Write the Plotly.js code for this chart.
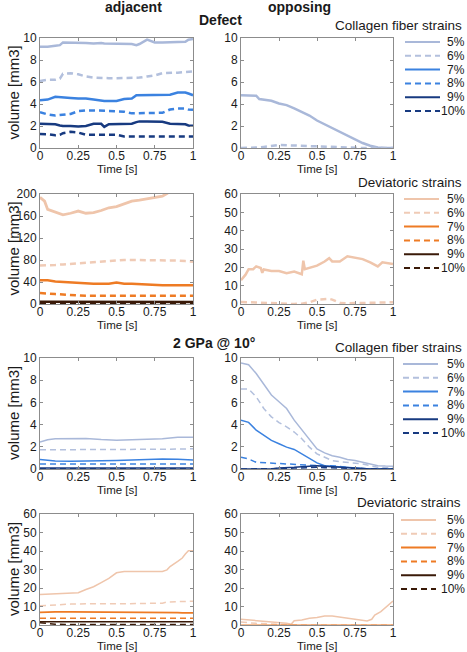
<!DOCTYPE html>
<html>
<head>
<meta charset="utf-8">
<script src="https://cdn.plot.ly/plotly-3.0.1.min.js"></script>
<style>html,body{margin:0;padding:0;background:#fff;}#chart{width:467px;height:652px;}</style>
</head>
<body>
<div id="chart"></div>
<script>
// ---------- DATA ----------
const seriesNames = ['5%', '6%', '7%', '8%', '9%', '10%'];
const xTickVals = [0, 0.25, 0.5, 0.75, 1];
const xTickText = ['0', '0.25', '0.5', '0.75', '1'];

// Panel 1: Defect, adjacent, collagen fiber strains
const t1 = [0,0.05,0.1,0.13,0.15,0.2,0.25,0.3,0.35,0.4,0.42,0.45,0.5,0.55,0.6,0.63,0.65,0.7,0.75,0.8,0.85,0.9,0.95,0.97,1];
const p1_5  = [9.2,9.2,9.3,9.35,9.6,9.6,9.55,9.55,9.5,9.55,9.5,9.5,9.5,9.45,9.45,9.35,9.45,9.85,9.6,9.6,9.6,9.6,9.65,9.85,9.9];
const p1_6  = [6.1,6.2,6.2,6.3,6.75,6.8,6.7,6.5,6.4,6.35,6.35,6.35,6.35,6.35,6.35,6.35,6.4,6.5,6.6,6.8,6.8,6.85,6.9,6.9,6.95];
const p1_7  = [4.35,4.4,4.65,4.6,4.6,4.55,4.5,4.5,4.4,4.3,4.28,4.28,4.28,4.45,4.5,4.8,4.8,4.8,4.8,4.82,4.85,5.05,5.05,4.95,4.8];
const p1_8  = [3.25,3.05,2.95,3.0,3.0,3.1,3.35,3.42,3.42,3.4,3.38,3.38,3.38,3.3,3.15,3.15,3.15,3.15,3.15,3.2,3.5,3.6,3.6,3.5,3.48];
const p1_9  = [2.2,2.2,2.15,2.05,2.0,2.0,1.95,2.0,2.2,2.2,1.92,2.17,2.2,2.2,2.2,2.35,2.42,2.42,2.42,2.38,2.2,2.2,2.15,2.05,2.02];
const p1_10 = [1.28,1.25,1.15,1.2,1.35,1.47,1.4,1.2,1.2,1.2,1.2,1.2,1.2,1.05,1.05,1.05,1.05,1.05,1.05,1.05,1.05,1.05,1.05,1.05,1.05];

// Panel 2: Defect, opposing, collagen fiber strains
const t2 = [0,0.05,0.1,0.12,0.15,0.2,0.25,0.3,0.35,0.4,0.45,0.5,0.55,0.6,0.65,0.7,0.75,0.8,0.85,0.9,0.95,1];
const p2_5 = [4.8,4.8,4.75,4.45,4.4,4.3,4.05,3.9,3.6,3.3,2.95,2.5,2.15,1.85,1.5,1.1,0.75,0.45,0.2,0.05,0,0];
const p2_6 = [0,0,0.02,0.05,0.1,0.2,0.28,0.25,0.22,0.2,0.18,0.15,0.12,0.1,0.07,0.05,0.02,0,0,0,0,0];

// Panel 3: Defect, adjacent, deviatoric strains
const t3 = [0,0.03,0.05,0.1,0.15,0.2,0.25,0.3,0.35,0.4,0.45,0.5,0.55,0.6,0.65,0.7,0.75,0.8,0.83,0.86,0.9,0.95,1];
const p3_5  = [194,187,172,167,162,165,169,165,166,170,175,177,182,187,189,191,193,196,201,206,null,null,null];
const p3_6  = [70,70,70,71,72,73,75,76,77,78,79,80,80,80,80,80,80,80,80,80,79,78,77];
const p3_7  = [43,43,43,41,40,39,38,38,37,37,37,39,37,37,36,36,35,34,34,34,35,35,34];
const p3_8  = [20,20,19,18,17,16,16,15,15,15,14,14,14,14,14,14,14,15,15,15,15,15,15];
const p3_9  = [4,4,4,4,4,4,4,4,4,4,3.5,3.5,3.5,3.5,3.5,3.5,3.5,3.5,3.5,3.5,3.5,3.5,3.5];
const p3_10 = [1,1,1,1,1,1,1,1,1,1,1,1,1,1,1,1,1,1,1,1,1,1,1];

// Panel 4: Defect, opposing, deviatoric strains
const t4 = [0,0.03,0.05,0.08,0.1,0.13,0.14,0.15,0.2,0.25,0.3,0.35,0.4,0.41,0.42,0.45,0.5,0.55,0.58,0.6,0.65,0.7,0.75,0.8,0.85,0.9,0.93,1];
const p4_5 = [13,16,19,19,20.5,19.6,17,18.8,18,18,16.8,17.7,16.2,23.6,19,19.6,20.9,23.2,25,23.2,23.2,26,25.3,24.5,22.7,20.5,22.7,21.8];
const p4_6 = [1.1,1,0.9,0.7,0.5,0.5,0.5,0.5,0.3,0.1,0,0,0.2,0.3,0.4,0.9,2.4,2.8,2.8,2.4,0.6,0.4,0.4,0.4,0.5,0.6,0.8,1.0];

// Panel 5: 2 GPa @ 10°, adjacent, collagen fiber strains
const t5 = [0,0.05,0.1,0.2,0.3,0.4,0.45,0.5,0.6,0.7,0.75,0.8,0.9,1];
const p5_5  = [2.42,2.64,2.73,2.73,2.75,2.65,2.6,2.6,2.63,2.65,2.65,2.72,2.85,2.85];
const p5_6  = [1.73,1.73,1.73,1.73,1.73,1.73,1.73,1.73,1.73,1.73,1.75,1.78,1.8,1.82];
const p5_7  = [0.85,0.78,0.72,0.7,0.7,0.72,0.74,0.76,0.8,0.85,0.88,0.9,0.88,0.82];
const p5_8  = [0.45,0.45,0.45,0.45,0.45,0.45,0.45,0.45,0.45,0.48,0.5,0.5,0.48,0.45];
const p5_9  = [0.08,0.08,0.08,0.08,0.08,0.08,0.08,0.08,0.08,0.08,0.08,0.08,0.08,0.08];
const p5_10 = [0.02,0.02,0.02,0.02,0.02,0.02,0.02,0.02,0.02,0.02,0.02,0.02,0.02,0.02];

// Panel 6: 2 GPa @ 10°, opposing, collagen fiber strains
const t6 = [0,0.05,0.1,0.15,0.2,0.25,0.3,0.35,0.4,0.45,0.5,0.55,0.6,0.65,0.7,0.75,0.8,0.85,0.9,0.95,1];
const p6_5  = [9.55,9.4,8.6,7.6,6.67,6.06,5.45,4.4,3.5,2.6,1.8,1.45,1.2,1.06,0.85,0.76,0.6,0.45,0.3,0.26,0.24];
const p6_6  = [7.2,7.2,6.5,5.45,4.7,4.18,3.8,3.33,2.73,1.97,1.36,1.06,0.76,0.67,0.6,0.55,0.45,0.3,0.15,0.12,0.1];
const p6_7  = [4.4,4.2,3.5,3.0,2.58,2.27,1.97,1.76,1.36,0.9,0.55,0.3,0.24,0.2,0.15,0.06,0,0,0,0,0];
const p6_8  = [1.06,0.9,0.6,0.57,0.55,0.5,0.45,0.42,0.4,0.35,0.3,0.3,0.3,0.22,0.15,0.07,0,0,0,0,0];
const p6_9  = [0,0,0,0,0,0.1,0.1,0.15,0.2,0.25,0.3,0.25,0.2,0.15,0.1,0.05,0,0,0,0,0];
const p6_10 = [0,0,0,0,0,0.02,0.05,0.08,0.12,0.15,0.15,0.12,0.1,0.05,0.02,0,0,0,0,0,0];

// Panel 7: 2 GPa @ 10°, adjacent, deviatoric strains
const t7 = [0,0.05,0.1,0.2,0.25,0.3,0.35,0.4,0.45,0.5,0.55,0.6,0.7,0.75,0.8,0.83,0.85,0.9,0.93,0.95,0.97,1];
const p7_5  = [16.5,16.7,17,17.2,17.4,19.2,20.7,22.9,25.2,28.2,28.9,28.9,28.9,28.9,28.9,29.8,31.6,34.4,36.2,38.4,40.2,40.2];
const p7_6  = [10.4,10.7,11,11.3,11.4,11.5,11.5,11.5,11.5,11.5,11.5,11.5,11.5,11.5,11.8,12.4,12.5,12.7,12.8,12.8,12.8,12.8];
const p7_7  = [6.8,7.1,7.1,7.1,7.1,7.1,7.1,7.1,7.0,7.0,7.0,6.9,6.8,6.7,6.7,6.7,6.7,6.7,6.6,6.6,6.6,6.6];
const p7_8  = [3.7,3.7,3.7,3.7,3.7,3.7,3.7,3.7,3.7,3.7,3.7,3.7,3.7,3.7,3.7,3.7,3.7,3.7,3.7,3.7,3.7,3.7];
const p7_9  = [1.8,1.8,1.8,1.8,1.8,1.8,1.8,1.8,1.8,1.8,1.8,1.8,1.8,1.8,1.8,1.8,1.8,1.8,1.8,1.8,1.8,1.8];
const p7_10 = [1.2,0.6,0.4,0.3,0.3,0.3,0.3,0.3,0.3,0.3,0.3,0.3,0.3,0.3,0.3,0.3,0.3,0.3,0.3,0.3,0.3,0.3];

// Panel 8: 2 GPa @ 10°, opposing, deviatoric strains
const t8 = [0,0.05,0.1,0.2,0.25,0.3,0.33,0.35,0.4,0.45,0.5,0.55,0.6,0.65,0.7,0.75,0.8,0.83,0.86,0.88,0.92,0.96,1];
const p8_5 = [3.1,2.7,2.35,1.8,1.45,0.9,0.35,2.35,2.7,3.6,4.0,4.9,4.9,4.3,3.6,3.1,2.35,2.2,3.1,5.4,7.2,9.9,13];
const p8_6 = [1.6,1.2,0.9,0.5,0.3,0.2,0.1,0,0,0,0,0,0,0,0,0,0,0,0,0,0,0,0];
const p8_7 = [0,0,0,0,0,0,0,0,0,0,0,0,0,0,0,0,0,0,0,0,0,0,0];

// ---------- STYLE ----------
const blueColors   = ['#a9b8d9','#b3c0dd','#3b82e0','#3b82e0','#173a80','#173a80'];
const orangeColors = ['#efc5ab','#f0cbb6','#ee7b24','#ee7b24','#3a1a08','#3a1a08'];
const dashes = ['solid','6px,4px','solid','6px,4px','solid','6px,4px'];

const M = {l:40, r:74, t:38, b:27};
const PW = 467 - M.l - M.r, PH = 652 - M.t - M.b;
const px = v => (v - M.l) / PW;
const py = v => 1 - (v - M.t) / PH;

const panels = [
  {t:t1, ys:[p1_5,p1_6,p1_7,p1_8,p1_9,p1_10], colors:blueColors,   range:[0,10],  dtick:2,  col:0, row:0, lw:[2.5,2.5,2.5,2.5,2.5,2.5]},
  {t:t2, ys:[p2_5,p2_6],                      colors:blueColors,   range:[0,10],  dtick:2,  col:1, row:0, lw:[2.5,2.5]},
  {t:t3, ys:[p3_5,p3_6,p3_7,p3_8,p3_9,p3_10], colors:orangeColors, range:[0,200], dtick:40, col:0, row:1, lw:[2.8,2.5,2.5,2.5,2.5,2.5]},
  {t:t4, ys:[p4_5,p4_6],                      colors:orangeColors, range:[0,60],  dtick:10, col:1, row:1, lw:[2.5,2.5]},
  {t:t5, ys:[p5_5,p5_6,p5_7,p5_8,p5_9,p5_10], colors:blueColors,   range:[0,10],  dtick:2,  col:0, row:2, lw:[1.5,1.5,1.5,1.5,1.5,1.5]},
  {t:t6, ys:[p6_5,p6_6,p6_7,p6_8,p6_9,p6_10], colors:blueColors,   range:[0,10],  dtick:2,  col:1, row:2, lw:[1.5,1.5,1.5,1.5,1.5,1.5]},
  {t:t7, ys:[p7_5,p7_6,p7_7,p7_8,p7_9,p7_10], colors:orangeColors, range:[0,60],  dtick:10, col:0, row:3, lw:[1.5,1.5,1.8,1.5,1.5,1.5]},
  {t:t8, ys:[p8_5,p8_6,p8_7],                 colors:orangeColors, range:[0,60],  dtick:10, col:1, row:3, lw:[1.5,1.5,1]}
];

// pixel boxes of the plot areas
const colX = [[40,193],[241,393]];
const rowY = [[38,148],[194,304],[358,469],[514,625]];

const FONT = 'Liberation Sans, Arial, sans-serif';
const traces = [];
const layout = {
  width:467, height:652, margin:M, showlegend:false,
  paper_bgcolor:'#fff', plot_bgcolor:'#fff',
  font:{family:FONT, size:12, color:'#1a1a1a'},
  annotations:[], shapes:[]
};

const ann = (x, y, text, size, bold, xanchor, angle) => layout.annotations.push({
  xref:'paper', yref:'paper', x:px(x), y:py(y), text: bold ? '<b>' + text + '</b>' : text,
  showarrow:false, xanchor:xanchor || 'center', yanchor:'middle', textangle:angle || 0,
  borderpad:0, font:{family:FONT, size:size, color:'#1a1a1a'}
});

panels.forEach((p, i) => {
  const n = i + 1;
  const xa = 'x' + (n === 1 ? '' : n), ya = 'y' + (n === 1 ? '' : n);
  p.ys.forEach((yv, k) => {
    traces.push({
      x:p.t, y:yv, xaxis:xa, yaxis:ya, type:'scatter', mode:'lines', name:seriesNames[k],
      line:{color:p.colors[k], width:p.lw[k], dash:dashes[k]}, connectgaps:false, hoverinfo:'skip'
    });
  });
  const tickvals = [];
  for (let v = p.range[0]; v <= p.range[1] + 1e-9; v += p.dtick) tickvals.push(v);
  const common = {showgrid:false, zeroline:false, showline:true, linecolor:'#8c8c8c', linewidth:1,
    mirror:'ticks', ticks:'inside', ticklen:3, tickcolor:'#8c8c8c', fixedrange:true,
    tickfont:{family:FONT, size:12, color:'#1a1a1a'}};
  layout['xaxis' + (n === 1 ? '' : n)] = Object.assign({}, common, {
    domain:[px(colX[p.col][0]), px(colX[p.col][1])], anchor:ya, range:[0,1],
    tickvals:xTickVals, ticktext:xTickText, ticklabelstandoff:-3
  });
  layout['yaxis' + (n === 1 ? '' : n)] = Object.assign({}, common, {
    domain:[py(rowY[p.row][1]), py(rowY[p.row][0])], anchor:xa, range:p.range,
    tickvals:tickvals
  });
  // axis titles
  ann((colX[p.col][0] + colX[p.col][1]) / 2, rowY[p.row][1] + 21, 'Time [s]', 11.5, false, 'center');
  if (p.col === 0) {
    ann(13.5, (rowY[p.row][0] + rowY[p.row][1]) / 2, 'volume [mm3]', 15, false, 'center', -90);
  }
});

// headers
ann(133, 7, 'adjacent', 14, true);
ann(299, 7, 'opposing', 14, true);
ann(220, 20, 'Defect', 14, true);
ann(214, 343, '2 GPa @ 10°', 14, true);
ann(463, 26, 'Collagen fiber strains', 13.5, false, 'right');
ann(463, 183, 'Deviatoric strains', 13.5, false, 'right');
ann(463, 347, 'Collagen fiber strains', 13.5, false, 'right');
ann(462, 503, 'Deviatoric strains', 13.5, false, 'right');

// legends (one block per row)
const legendBlocks = [
  {top:42,  x0:405, x1:440, colors:blueColors},
  {top:199, x0:404, x1:439, colors:orangeColors},
  {top:364, x0:403, x1:438, colors:blueColors},
  {top:520, x0:401, x1:436, colors:orangeColors}
];
legendBlocks.forEach(b => {
  seriesNames.forEach((nm, k) => {
    const yy = b.top + k * 13.8;
    layout.shapes.push({type:'line', xref:'paper', yref:'paper',
      x0:px(b.x0), x1:px(b.x1), y0:py(yy), y1:py(yy),
      line:{color:b.colors[k], width:2, dash:dashes[k]}});
    ann(466, yy, nm, 12, false, 'right');
  });
});

Plotly.newPlot('chart', traces, layout, {staticPlot:true, displayModeBar:false});
</script>
</body>
</html>
